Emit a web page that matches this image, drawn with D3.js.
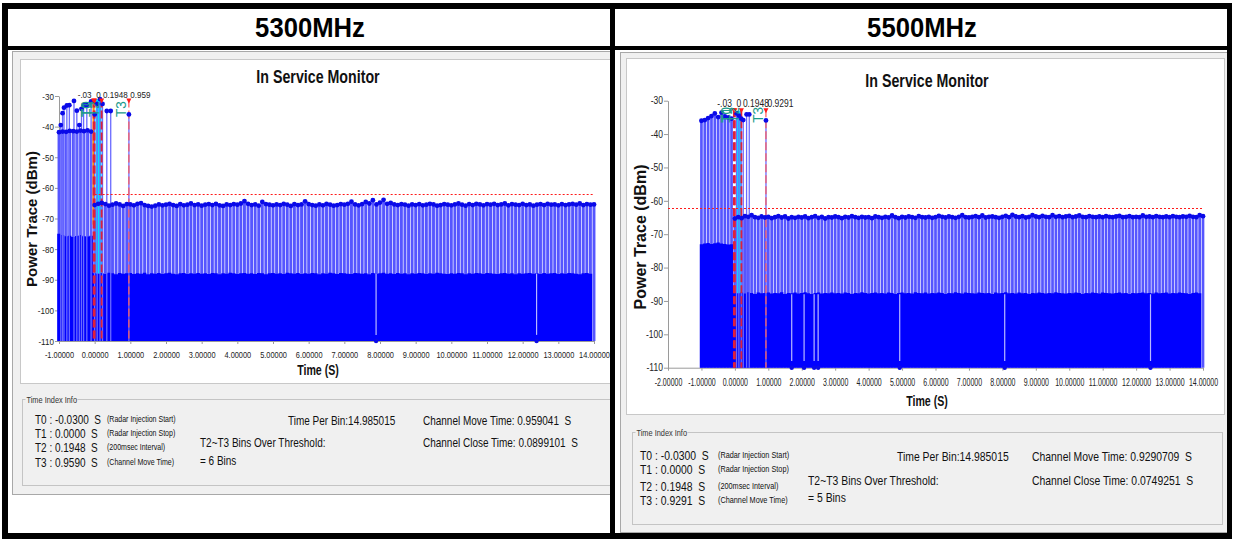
<!DOCTYPE html>
<html>
<head>
<meta charset="utf-8">
<script src="https://cdn.jsdelivr.net/npm/d3@7/dist/d3.min.js"></script>
<style>
  body { margin: 0; background: #fff; }
  text { font-family: "Liberation Sans", Arial, sans-serif; white-space: pre; }
</style>
</head>
<body>
<div id="chart"></div>
<script>
// ---------------- data ----------------
var headerTitles = ["5300MHz", "5500MHz"];
var chartTitle = "In Service Monitor";
var yTicks = [-30, -40, -50, -60, -70, -80, -90, -100, -110];
var xTicksLeft = [-1, 0, 1, 2, 3, 4, 5, 6, 7, 8, 9, 10, 11, 12, 13, 14];
var xTicksRight = [-2, -1, 0, 1, 2, 3, 4, 5, 6, 7, 8, 9, 10, 11, 12, 13, 14];
var threshold = -62;

// bins start at -1.0 s, one every 0.1 s
var binStart = -1.0, binStep = 0.1;

// 5300MHz: max-hold per bin (dBm)
var leftMax = [
  -41.8,-41.6,-41.7,-41.4,-41.5,-41.6,-41.3,-41.5,-41.2,-41.6,
  -65.6,-65.2,-64.9,-65.3,-65.8,-65.5,-65.1,-65.4,-65.9,-65.3,
  -65.4,-65.7,-65.2,-65.0,-65.6,-65.9,-66.1,-65.8,-65.4,-65.7,
  -65.5,-65.2,-65.6,-65.9,-65.3,-65.7,-65.5,-65.1,-65.6,-65.4,
  -65.8,-65.5,-65.3,-65.6,-65.2,-65.7,-65.9,-65.4,-65.6,-65.3,
  -65.5,-65.1,-64.3,-65.2,-65.6,-65.4,-65.8,-64.6,-65.3,-65.5,
  -65.7,-65.4,-65.6,-65.2,-65.5,-65.9,-65.3,-65.6,-65.4,-64.4,
  -65.3,-65.6,-65.8,-65.4,-65.7,-65.2,-65.5,-65.8,-65.6,-65.3,
  -65.5,-65.2,-64.5,-65.4,-65.7,-65.3,-64.6,-65.1,-64.0,-65.4,
  -64.8,-63.9,-65.2,-64.9,-65.4,-65.6,-65.3,-65.5,-65.8,-65.4,
  -65.6,-65.3,-65.7,-65.5,-65.2,-65.4,-65.8,-65.6,-65.3,-65.5,
  -65.7,-65.4,-65.1,-65.5,-65.8,-65.3,-65.6,-65.2,-65.4,-65.7,
  -65.3,-65.5,-65.2,-65.6,-65.4,-65.1,-65.7,-65.3,-65.5,-65.6,
  -65.2,-65.6,-65.4,-65.8,-65.5,-65.3,-65.6,-65.2,-65.5,-65.4,
  -65.7,-65.3,-65.6,-65.4,-65.2,-65.5,-65.1,-65.6,-65.3,-65.5,
  -65.4
];
// 5300MHz: average trace per bin (dBm)
var leftAvg = [
  -75.0,-75.4,-75.8,-75.6,-76.0,-75.7,-75.4,-75.8,-75.9,-75.6,
  -87.9,-88.0,-87.8,-88.1,-87.7,-87.9,-88.2,-87.8,-88.0,-87.9,
  -87.8,-88.1,-87.9,-88.0,-87.7,-88.2,-87.9,-88.0,-87.8,-88.1,
  -87.9,-87.7,-88.0,-88.2,-87.9,-87.8,-88.1,-87.9,-88.0,-87.8,
  -88.0,-87.9,-88.1,-87.8,-87.9,-88.2,-87.9,-88.0,-87.7,-87.9,
  -88.1,-87.9,-87.8,-88.0,-87.9,-88.1,-87.8,-87.9,-88.2,-87.9,
  -87.8,-88.0,-87.9,-88.1,-87.7,-87.9,-88.0,-87.8,-88.1,-87.9,
  -88.0,-87.8,-87.9,-88.2,-87.9,-88.0,-87.7,-87.9,-88.1,-87.8,
  -87.9,-88.0,-88.1,-87.8,-87.9,-88.0,-87.9,-88.2,-87.8,-88.0,
  -87.9,-87.7,-88.0,-87.9,-88.1,-87.8,-88.0,-87.9,-88.2,-87.9,
  -88.0,-87.8,-87.9,-88.1,-87.9,-88.0,-87.7,-87.9,-88.0,-88.1,
  -87.9,-88.0,-87.8,-87.9,-88.2,-87.9,-88.0,-87.8,-87.9,-88.1,
  -87.8,-87.9,-88.0,-88.1,-87.9,-87.8,-88.0,-87.9,-88.2,-87.9,
  -88.0,-87.9,-87.8,-88.0,-87.9,-88.1,-87.8,-88.0,-87.9,-87.8,
  -88.1,-87.9,-88.0,-87.8,-87.9,-88.0,-88.2,-87.9,-87.8,-88.0,
  -87.9
];
// 5300MHz: radar burst peaks (time s, dBm)
var leftBurstT = [-0.95,-0.90,-0.86,-0.78,-0.71,-0.58,-0.50,-0.43,-0.37,-0.31,-0.22,-0.10,0.00,0.07,0.15,0.22,0.34,0.45,0.96];
var leftBurstV = [-39.5,-35.6,-33.8,-33.1,-33.0,-31.6,-34.8,-39.5,-34.2,-33.0,-33.0,-31.8,-36.0,-32.6,-31.0,-32.6,-34.9,-34.9,-36.0];
// 5300MHz: bins that drop to the floor
var leftDrop = [7.89, 12.39];

// 5500MHz
var rightMax = [
  -36.0,-35.8,-35.2,-34.6,-33.8,-34.9,-33.6,-34.7,-35.0,-35.4,
  -65.3,-64.9,-65.2,-64.6,-64.8,-64.3,-64.9,-65.1,-64.7,-65.0,
  -64.8,-65.2,-64.9,-64.6,-65.0,-64.7,-65.3,-64.9,-65.1,-64.8,
  -65.0,-64.7,-65.2,-64.9,-64.6,-65.1,-64.8,-65.3,-64.9,-65.0,
  -64.7,-64.9,-65.2,-64.8,-65.0,-64.6,-64.9,-65.1,-64.8,-65.0,
  -64.9,-65.2,-64.7,-64.9,-65.1,-64.8,-65.0,-64.4,-64.9,-65.2,
  -64.8,-65.0,-64.7,-64.9,-65.1,-64.6,-64.9,-65.0,-64.8,-65.1,
  -64.9,-64.5,-64.8,-65.0,-64.7,-64.9,-65.1,-64.8,-64.3,-64.9,
  -65.0,-64.8,-64.6,-64.9,-64.4,-65.0,-64.8,-64.7,-64.9,-65.1,
  -64.8,-64.5,-64.9,-64.2,-64.7,-64.9,-64.6,-65.0,-64.8,-64.3,
  -64.7,-64.9,-64.5,-64.8,-64.9,-64.3,-64.8,-64.6,-64.9,-64.7,
  -64.5,-64.9,-64.7,-64.4,-64.8,-64.9,-64.6,-64.8,-64.9,-64.7,
  -64.9,-64.6,-64.8,-64.9,-64.7,-64.5,-64.9,-64.8,-64.6,-64.9,
  -64.8,-64.9,-64.4,-64.8,-64.7,-64.9,-64.6,-64.8,-64.9,-64.7,
  -64.9,-64.6,-64.8,-64.9,-64.7,-64.8,-64.5,-64.8,-64.9,-64.3,
  -64.6
];
var rightAvg = [
  -73.0,-72.8,-72.6,-72.9,-72.7,-72.5,-72.8,-72.9,-73.1,-73.0,
  -87.6,-87.7,-87.5,-87.8,-87.4,-87.6,-87.9,-87.5,-87.7,-87.6,
  -87.5,-87.8,-87.6,-87.7,-87.4,-87.9,-87.6,-87.7,-87.5,-87.8,
  -87.6,-87.4,-87.7,-87.9,-87.6,-87.5,-87.8,-87.6,-87.7,-87.5,
  -87.7,-87.6,-87.8,-87.5,-87.6,-87.9,-87.6,-87.7,-87.4,-87.6,
  -87.8,-87.6,-87.5,-87.7,-87.6,-87.8,-87.5,-87.6,-87.9,-87.6,
  -87.5,-87.7,-87.6,-87.8,-87.4,-87.6,-87.7,-87.5,-87.8,-87.6,
  -87.7,-87.5,-87.6,-87.9,-87.6,-87.7,-87.4,-87.6,-87.8,-87.5,
  -87.6,-87.7,-87.8,-87.5,-87.6,-87.7,-87.6,-87.9,-87.5,-87.7,
  -87.6,-87.4,-87.7,-87.6,-87.8,-87.5,-87.7,-87.6,-87.9,-87.6,
  -87.7,-87.5,-87.6,-87.8,-87.6,-87.7,-87.4,-87.6,-87.7,-87.8,
  -87.6,-87.7,-87.5,-87.6,-87.9,-87.6,-87.7,-87.5,-87.6,-87.8,
  -87.5,-87.6,-87.7,-87.8,-87.6,-87.5,-87.7,-87.6,-87.9,-87.6,
  -87.7,-87.6,-87.5,-87.7,-87.6,-87.8,-87.5,-87.7,-87.6,-87.5,
  -87.8,-87.6,-87.7,-87.5,-87.6,-87.7,-87.9,-87.6,-87.5,-87.7,
  -87.6
];
var rightBurstT = [0.05, 0.12, 0.19, 0.25, 0.35, 0.43, 0.93];
var rightBurstV = [-33.8, -34.5, -35.4, -35.8, -34.1, -34.1, -35.9];
var rightDrop = [1.70, 2.07, 2.37, 2.49, 4.93, 8.07, 12.43];

// time markers
var markerNames = ["T0", "T1", "T2", "T3"];
var leftMarkers = [-0.03, 0, 0.1948, 0.959];
var leftMarkerLabels = ["-.03", "0", "0.1948", "0.959"];
var rightMarkers = [-0.03, 0, 0.1948, 0.9291];
var rightMarkerLabels = ["-.03", "0", "0.1948", "0.9291"];

// Time Index Info texts
var infoTitle = "Time Index Info";
var leftInfoT = ["T0 : -0.0300  S", "T1 : 0.0000  S", "T2 : 0.1948  S", "T3 : 0.9590  S"];
var rightInfoT = ["T0 : -0.0300  S", "T1 : 0.0000  S", "T2 : 0.1948  S", "T3 : 0.9291  S"];
var infoNotes = ["(Radar Injection Start)", "(Radar Injection Stop)", "(200msec Interval)", "(Channel Move Time)"];
var binText = "Time Per Bin:14.985015";
var overText = "T2~T3 Bins Over Threshold:";
var leftBins = "= 6 Bins", rightBins = "= 5 Bins";
var leftMove = "Channel Move Time: 0.959041  S", leftClose = "Channel Close Time: 0.0899101  S";
var rightMove = "Channel Move Time: 0.9290709  S", rightClose = "Channel Close Time: 0.0749251  S";

// ---------------- drawing ----------------
var W = 1233, H = 541;
var svg = d3.select("#chart").append("svg").attr("width", W).attr("height", H);

// plain hyphen minus, as in the instrument software
var fmtY = function (d) { return String(d); };
var fmtX = function (d) { return d3.format(".5f")(d).replace("\u2212", "-"); };

// text helper: x/y baseline, horizontal squeeze sx to mimic a narrow face
function txt(g, x, y, s, o) {
  o = o || {};
  var t = "translate(" + x + "," + y + ")";
  if (o.rotate) t += " rotate(" + o.rotate + ")";
  t += " scale(" + (o.sx || 1) + ",1)";
  return g.append("text")
    .attr("transform", t)
    .attr("text-anchor", o.anchor || "start")
    .style("font-size", (o.size || 12) + "px")
    .style("font-weight", o.weight || "normal")
    .attr("fill", o.fill || "#111")
    .text(s);
}

// panels (gray window, white chart area, info group box)
function drawPanel(p) {
  svg.append("rect").attr("x", p.x).attr("y", p.y).attr("width", p.w).attr("height", p.h)
    .attr("fill", "#f0f0f0").attr("stroke", "#a8a8a8");
  svg.append("rect").attr("x", p.cx).attr("y", p.cy).attr("width", p.cw).attr("height", p.ch)
    .attr("fill", "#fff").attr("stroke", "#c8c8c8");
  svg.append("rect").attr("x", p.gx).attr("y", p.gy).attr("width", p.gw).attr("height", p.gh)
    .attr("fill", "none").attr("stroke", "#c4c4c4");
  svg.append("rect").attr("x", p.gx + 3).attr("y", p.gy - 5).attr("width", 52).attr("height", 10).attr("fill", "#f0f0f0");
  txt(svg, p.gx + 4, p.gy + 3, infoTitle, { size: 9, sx: 0.82, fill: "#333" });
}

function drawInfo(g, c) {
  c.infoT.forEach(function (s, i) {
    txt(g, c.ix, c.iy[i], s, { size: c.ifs, sx: 0.8 });
    txt(g, c.nx, c.iy[i] - 2, infoNotes[i], { size: c.ifs * 0.72, sx: 0.78 });
  });
  txt(g, c.bx, c.r1, binText, { size: c.ifs, sx: 0.8 });
  txt(g, c.mx, c.r1, c.move, { size: c.ifs, sx: 0.8 });
  txt(g, c.ox, c.r2, overText, { size: c.ifs, sx: 0.8 });
  txt(g, c.ox, c.r3, c.bins, { size: c.ifs, sx: 0.8 });
  txt(g, c.mx, c.r2, c.close, { size: c.ifs, sx: 0.8 });
}

function drawChart(c) {
  var x = d3.scaleLinear().domain(c.xDomain).range([c.x0, c.x1]);
  var y = d3.scaleLinear().domain([-110, -30]).range([c.y1, c.y0]);
  var g = svg.append("g");

  var bins = c.max.map(function (v, i) {
    return { t: binStart + i * binStep, max: v, avg: c.avg[i] };
  });
  var bursts = c.burstT.map(function (t, i) { return { t: t, max: c.burstV[i] }; });

  // axes
  var yAxis = g.append("g").attr("transform", "translate(" + c.x0 + ",0)")
    .call(d3.axisLeft(y).tickValues(yTicks).tickSize(4).tickSizeOuter(0).tickFormat(fmtY));
  var xAxis = g.append("g").attr("transform", "translate(0," + c.y1 + ")")
    .call(d3.axisBottom(x).tickValues(c.xTicks).tickSize(3).tickSizeOuter(0).tickFormat(fmtX));
  [yAxis, xAxis].forEach(function (a) {
    a.select(".domain").attr("stroke", "#9a9a9a");
    a.selectAll(".tick line").attr("stroke", "#9a9a9a");
    a.selectAll(".tick text")
      .style("font-family", "'Liberation Sans', Arial, sans-serif")
      .style("font-size", c.tfs + "px").attr("fill", "#222");
  });
  yAxis.selectAll(".tick text").attr("transform", "scale(0.85,1)").attr("x", -6);
  xAxis.selectAll(".tick text").attr("transform", "scale(" + c.xsx + ",1)").attr("y", c.xlabDy);

  // light max-hold stems
  g.append("g").selectAll("line").data(bins).enter().append("line")
    .attr("x1", function (d) { return x(d.t); }).attr("x2", function (d) { return x(d.t); })
    .attr("y1", y(-110)).attr("y2", function (d) { return y(d.max); })
    .attr("stroke", "#5656ff").attr("stroke-width", c.stemW);

  // T1..T2 highlight
  g.append("rect").attr("x", x(c.markers[1]) + 1).attr("y", y(c.hiTop))
    .attr("width", x(c.markers[2]) - x(c.markers[1]) - 1).attr("height", y(-88) - y(c.hiTop))
    .attr("fill", "#00e5ff");
  if (c.orange) {
    g.append("line").attr("x1", x(c.markers[0])).attr("x2", x(c.markers[0]))
      .attr("y1", y(c.hiTop)).attr("y2", y(-72)).attr("stroke", "#ff8c00").attr("stroke-width", 2.2);
  }

  // dense average trace
  g.append("path").datum(bins)
    .attr("d", d3.area().curve(d3.curveStepAfter)
      .x(function (d) { return x(d.t - binStep / 2); })
      .y0(y(-110)).y1(function (d) { return y(d.avg); }))
    .attr("fill", "#0000ff");

  // floor drop-outs
  g.append("g").selectAll("line").data(c.drop).enter().append("line")
    .attr("x1", function (d) { return x(d); }).attr("x2", function (d) { return x(d); })
    .attr("y1", y(-108)).attr("y2", y(-88)).attr("stroke", "#b8b8ff").attr("stroke-width", 1.2);

  // burst stems
  g.append("g").selectAll("line").data(bursts).enter().append("line")
    .attr("x1", function (d) { return x(d.t); }).attr("x2", function (d) { return x(d.t); })
    .attr("y1", y(-110)).attr("y2", function (d) { return y(d.max); })
    .attr("stroke", "#6a6aff").attr("stroke-width", 1.3);

  // threshold
  var ty = Math.round(y(threshold)) + 0.5;
  g.append("line").attr("x1", x(c.thStart)).attr("x2", c.x1)
    .attr("y1", ty).attr("y2", ty)
    .attr("stroke", "#ff1a1a").attr("stroke-width", 1).attr("stroke-dasharray", "2,2");

  // markers
  c.markers.forEach(function (m, i) {
    var mx = x(m);
    g.append("line").attr("x1", mx).attr("x2", mx).attr("y1", c.y0 + c.lblDy + 2).attr("y2", c.y1)
      .attr("stroke", i === 3 ? "#ff5a5a" : "#e0203a").attr("stroke-width", i === 3 ? 1.2 : 1.8)
      .attr("stroke-dasharray", "8,3");
  });

  // dots
  g.append("g").selectAll("circle").data(bins.concat(bursts)).enter().append("circle")
    .attr("cx", function (d) { return x(d.t); }).attr("cy", function (d) { return y(d.max); })
    .attr("r", 2.4).attr("fill", "#0a0ae8");
  g.append("g").selectAll("circle").data(c.drop).enter().append("circle")
    .attr("cx", function (d) { return x(d); }).attr("cy", y(-110)).attr("r", 2.2).attr("fill", "#0a0ae8");

  // marker heads, values and rotated names
  c.markers.forEach(function (m, i) {
    var mx = x(m);
    var ay = c.y0 + c.lblDy + 1;
    g.append("path").attr("d", "M" + (mx - 2.5) + "," + ay + "L" + (mx + 2.5) + "," + ay + "L" + mx + "," + (ay + 5) + "Z")
      .attr("fill", "#ff1a1a");
    txt(g, i === 0 ? mx - 2 : mx + 1.5, c.y0 + c.lblDy, c.markerLabels[i],
      { size: c.tfs, sx: 0.85, anchor: i === 0 ? "end" : "start", fill: "#222" });
    txt(g, mx - 2.5, c.y0 + c.tealDy, markerNames[i],
      { size: 15, sx: 0.9, rotate: -90, fill: "#1c9c8c" });
  });

  // titles
  txt(g, c.titleX, c.titleY, chartTitle, { size: 18, weight: "bold", sx: 0.79, anchor: "middle" });
  txt(g, c.ylabX, c.ylabY, "Power Trace (dBm)", { size: c.yfs, weight: "bold", rotate: -90, anchor: "middle" });
  txt(g, c.titleX, c.xlabY, "Time (S)", { size: 14, weight: "bold", sx: 0.76, anchor: "middle" });
}

// panels
drawPanel({ x: 12.5, y: 51.5, w: 600, h: 443, cx: 20.5, cy: 59.5, cw: 592, ch: 324, gx: 22.5, gy: 399.5, gw: 592, gh: 86 });
drawPanel({ x: 620.5, y: 52.5, w: 610, h: 480, cx: 626.5, cy: 58.5, cw: 598, ch: 356, gx: 632.5, gy: 432.5, gw: 590, gh: 92 });

drawChart({
  xDomain: [-1, 14], xTicks: xTicksLeft, x0: 59, x1: 594, y0: 96, y1: 341,
  max: leftMax, avg: leftAvg, burstT: leftBurstT, burstV: leftBurstV, drop: leftDrop,
  markers: leftMarkers, markerLabels: leftMarkerLabels, hiTop: -31, orange: true, thStart: 0,
  lblDy: 1.5, tealDy: 21, tfs: 9.5, xsx: 0.78, xlabDy: 10, yfs: 15, stemW: 2.9,
  titleX: 318, titleY: 83, ylabX: 37, ylabY: 219, xlabY: 375
});
drawChart({
  xDomain: [-2, 14], xTicks: xTicksRight, x0: 668, x1: 1203, y0: 100.7, y1: 367.7,
  max: rightMax, avg: rightAvg, burstT: rightBurstT, burstV: rightBurstV, drop: rightDrop,
  markers: rightMarkers, markerLabels: rightMarkerLabels, hiTop: -33, orange: false, thStart: -2,
  lblDy: 6.5, tealDy: 22, tfs: 10, xsx: 0.7, xlabDy: 11, yfs: 16, stemW: 2.7,
  titleX: 927, titleY: 86.5, ylabX: 646, ylabY: 237, xlabY: 406
});

drawInfo(svg, {
  infoT: leftInfoT, ix: 35, iy: [424, 438, 452, 467], nx: 107, ifs: 12.5,
  bx: 288, mx: 423, ox: 200, r1: 425, r2: 447, r3: 465,
  move: leftMove, close: leftClose, bins: leftBins
});
drawInfo(svg, {
  infoT: rightInfoT, ix: 640, iy: [460, 474, 491, 505], nx: 718, ifs: 13,
  bx: 897, mx: 1032, ox: 808, r1: 461, r2: 485, r3: 502,
  move: rightMove, close: rightClose, bins: rightBins
});

// table frame and header row
var frame = svg.append("g").attr("fill", "#000");
frame.append("rect").attr("x", 2).attr("y", 3).attr("width", 1229).attr("height", 6);
frame.append("rect").attr("x", 2).attr("y", 3).attr("width", 6).attr("height", 536);
frame.append("rect").attr("x", 1227).attr("y", 3).attr("width", 5).attr("height", 536);
frame.append("rect").attr("x", 2).attr("y", 533).attr("width", 1230).attr("height", 6);
frame.append("rect").attr("x", 2).attr("y", 46).attr("width", 1229).attr("height", 4);
frame.append("rect").attr("x", 610).attr("y", 3).attr("width", 5).attr("height", 536);
txt(svg, 310, 37, headerTitles[0], { size: 27, weight: "bold", sx: 0.95, anchor: "middle", fill: "#000" });
txt(svg, 922, 37, headerTitles[1], { size: 27, weight: "bold", sx: 0.95, anchor: "middle", fill: "#000" });
</script>
</body>
</html>
